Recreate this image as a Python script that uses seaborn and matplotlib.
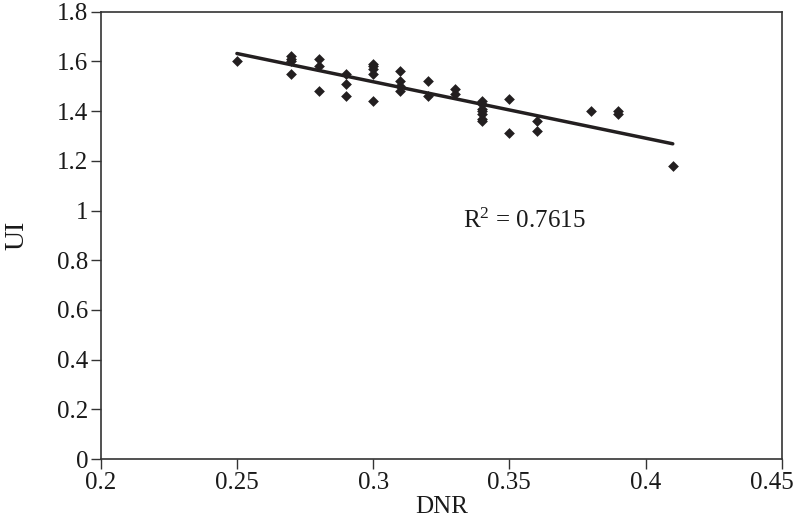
import numpy as np
import pandas as pd
import seaborn as sns
import matplotlib.pyplot as plt
import matplotlib.transforms as mtransforms

# Datos
dnr = [0.25,
       0.27, 0.27, 0.27, 0.27,
       0.28, 0.28, 0.28,
       0.29, 0.29, 0.29,
       0.30, 0.30, 0.30, 0.30, 0.30,
       0.31, 0.31, 0.31, 0.31,
       0.32, 0.32,
       0.33, 0.33,
       0.34, 0.34, 0.34, 0.34, 0.34, 0.34, 0.34,
       0.35, 0.35,
       0.36, 0.36,
       0.38,
       0.39, 0.39,
       0.41]
ui = [1.60,
      1.62, 1.61, 1.60, 1.55,
      1.61, 1.58, 1.48,
      1.55, 1.51, 1.46,
      1.59, 1.58, 1.57, 1.55, 1.44,
      1.56, 1.52, 1.50, 1.48,
      1.52, 1.46,
      1.49, 1.47,
      1.44, 1.43, 1.41, 1.40, 1.39, 1.37, 1.36,
      1.45, 1.31,
      1.36, 1.32,
      1.40,
      1.40, 1.39,
      1.18]
r2_texto = "R$^{2}$ = 0.7615"

df = pd.DataFrame({"DNR": dnr, "UI": ui})

sns.set_style("ticks")
plt.rcParams["font.family"] = ["Liberation Serif", "DejaVu Serif"]
plt.rcParams["mathtext.fontset"] = "custom"
plt.rcParams["mathtext.rm"] = "Liberation Serif"
plt.rcParams["mathtext.it"] = "Liberation Serif"

fig = plt.figure(figsize=(7.95, 5.21), dpi=100)
ax = fig.add_axes([0.1267, 0.119, 0.8566, 0.8585])

color = "#231f20"
sns.scatterplot(data=df, x="DNR", y="UI", marker="D", s=30, color=color,
                edgecolor=color, linewidth=0, ax=ax)
sns.regplot(data=df, x="DNR", y="UI", scatter=False, ci=None, truncate=True,
            line_kws={"color": color, "linewidth": 2.5}, ax=ax)

ax.set_xlim(0.2, 0.45)
ax.set_ylim(0, 1.8)
ax.set_xticks([0.2, 0.25, 0.3, 0.35, 0.4, 0.45])
ax.set_xticklabels(["0.2", "0.25", "0.3", "0.35", "0.4", "0.45"])
ax.set_yticks(np.arange(0, 1.81, 0.2))
ax.set_yticklabels(["0", "0.2", "0.4", "0.6", "0.8", "1", "1.2", "1.4", "1.6", "1.8"])
ax.tick_params(axis="both", labelsize=18, length=7, width=1, color="#333333",
               labelcolor="#1a1a1a", direction="out", pad=2)
for sp in ax.spines.values():
    sp.set_visible(True)
    sp.set_linewidth(1.2)
    sp.set_color("#333333")

# la ultima etiqueta queda desplazada hacia la izquierda
ult = ax.get_xticklabels()[-1]
ult.set_transform(ult.get_transform() +
                  mtransforms.ScaledTranslation(-0.1, 0, fig.dpi_scale_trans))

ax.set_xlabel("DNR", fontsize=18, labelpad=2, color="#1a1a1a")
ax.set_ylabel("UI", fontsize=20, labelpad=20, color="#1a1a1a")
ax.text(0.3554, 0.96, r2_texto, fontsize=18, ha="center", va="center",
        color="#1a1a1a")

fig.savefig("out.png", dpi=100)
